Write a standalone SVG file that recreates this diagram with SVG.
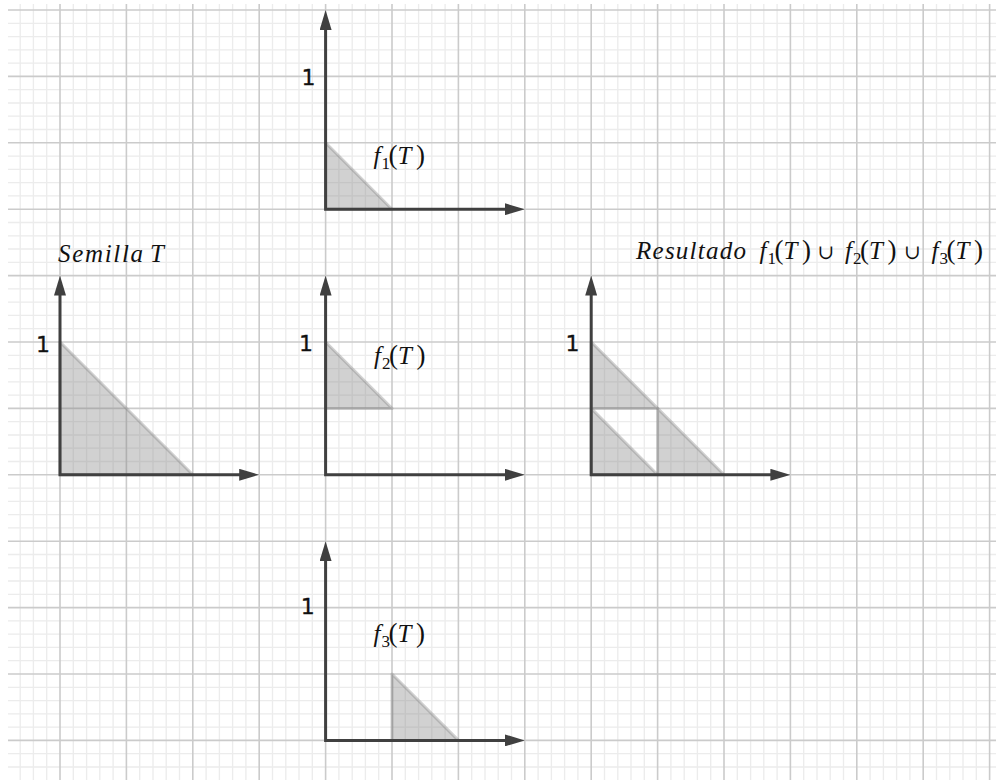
<svg xmlns="http://www.w3.org/2000/svg" width="996" height="780" viewBox="0 0 996 780">
<style>
.minor{stroke:#ececec;stroke-width:1.3;fill:none}
.major{stroke:#cbcbcb;stroke-width:1.6;fill:none}
.tri{fill:#808080;fill-opacity:0.36;stroke:#808080;stroke-opacity:0.36;stroke-width:3;stroke-linejoin:round}
.axis{fill:none;stroke:#404040;stroke-width:3;marker-start:url(#arrS);marker-end:url(#arrE)}
.one{font-family:"DejaVu Sans",sans-serif;font-size:22px;fill:#111;text-anchor:middle;stroke:#111;stroke-width:0.3}
.m{font-family:"Liberation Serif",serif;font-size:27px;fill:#111}
.mi{font-family:"Liberation Serif",serif;font-size:25px;font-style:italic;fill:#111}
.sub{font-family:"Liberation Serif",serif;font-size:17px;fill:#111}
.cup{font-family:"DejaVu Serif",serif;font-size:20px;fill:#111;text-anchor:middle}
</style>
<defs>
<marker id="arrE" viewBox="0 0 20 12" markerWidth="20" markerHeight="12" refX="8" refY="6" orient="auto" markerUnits="userSpaceOnUse"><path d="M0,0 L20,6 L0,12 z" fill="#404040"/></marker>
<marker id="arrS" viewBox="0 0 20 12" markerWidth="20" markerHeight="12" refX="8" refY="6" orient="auto-start-reverse" markerUnits="userSpaceOnUse"><path d="M0,0 L20,6 L0,12 z" fill="#404040"/></marker>
<g id="fT">
<text class="mi" x="3.5" y="0">f</text>
<text class="m" x="18.5" y="0">(</text>
<text class="mi" x="27.5" y="0">T</text>
<text class="m" x="46" y="0">)</text>
</g>
</defs>
<rect width="996" height="780" fill="#ffffff"/>
<g id="grid">
<path class="minor" d="M20.2 4V780M33.4 4V780M46.7 4V780M73.3 4V780M86.6 4V780M99.8 4V780M113.1 4V780M139.7 4V780M153 4V780M166.2 4V780M179.5 4V780M206.1 4V780M219.4 4V780M232.6 4V780M245.9 4V780M272.5 4V780M285.8 4V780M299 4V780M312.3 4V780M338.9 4V780M352.2 4V780M365.4 4V780M378.7 4V780M405.3 4V780M418.6 4V780M431.8 4V780M445.1 4V780M471.7 4V780M485 4V780M498.2 4V780M511.5 4V780M538.1 4V780M551.4 4V780M564.6 4V780M577.9 4V780M604.5 4V780M617.8 4V780M631 4V780M644.3 4V780M670.9 4V780M684.2 4V780M697.4 4V780M710.7 4V780M737.3 4V780M750.6 4V780M763.8 4V780M777.1 4V780M803.7 4V780M817 4V780M830.2 4V780M843.5 4V780M870.1 4V780M883.4 4V780M896.6 4V780M909.9 4V780M936.5 4V780M949.8 4V780M963 4V780M976.3 4V780"/>
<path class="minor" d="M8 23.3H996M8 36.6H996M8 49.8H996M8 63.1H996M8 89.7H996M8 103H996M8 116.2H996M8 129.5H996M8 156.1H996M8 169.4H996M8 182.6H996M8 195.9H996M8 222.5H996M8 235.8H996M8 249H996M8 262.3H996M8 288.9H996M8 302.2H996M8 315.4H996M8 328.7H996M8 355.3H996M8 368.6H996M8 381.8H996M8 395.1H996M8 421.7H996M8 435H996M8 448.2H996M8 461.5H996M8 488.1H996M8 501.4H996M8 514.6H996M8 527.9H996M8 554.5H996M8 567.8H996M8 581H996M8 594.3H996M8 620.9H996M8 634.2H996M8 647.4H996M8 660.7H996M8 687.3H996M8 700.6H996M8 713.8H996M8 727.1H996M8 753.7H996M8 767H996"/>
<path class="major" d="M60 4V780M126.4 4V780M192.8 4V780M259.2 4V780M325.6 4V780M392 4V780M458.4 4V780M524.8 4V780M591.2 4V780M657.6 4V780M724 4V780M790.4 4V780M856.8 4V780M923.2 4V780M989.6 4V780"/>
<path class="major" d="M8 10H996M8 76.4H996M8 142.8H996M8 209.2H996M8 275.6H996M8 342H996M8 408.4H996M8 474.8H996M8 541.2H996M8 607.6H996M8 674H996M8 740.4H996"/>
</g>
<g id="seed">
<polygon class="tri" points="60,342 60,474.8 192.8,474.8"/>
<path class="axis" d="M60 287.6V474.8H247.2"/>
<text class="one" x="43" y="352">1</text>
<text class="mi" x="58" y="262" textLength="85" lengthAdjust="spacing">Semilla</text>
<text class="mi" x="150" y="262">T</text>
</g>
<g id="f1">
<polygon class="tri" points="325.6,142.8 325.6,209.2 392,209.2"/>
<path class="axis" d="M325.6 22V209.2H512.8"/>
<text class="one" x="308.5" y="85">1</text>
<use href="#fT" x="370" y="164"/>
<text class="sub" x="381.5" y="169">1</text>
</g>
<g id="f2">
<polygon class="tri" points="325.6,342 325.6,408.4 392,408.4"/>
<path class="axis" d="M325.6 287.6V474.8H512.8"/>
<text class="one" x="306" y="351">1</text>
<use href="#fT" x="370.5" y="363.5"/>
<text class="sub" x="382" y="368.5">2</text>
</g>
<g id="f3">
<polygon class="tri" points="392,674 392,740.4 458.4,740.4"/>
<path class="axis" d="M325.6 553.2V740.4H512.8"/>
<text class="one" x="307.7" y="614">1</text>
<use href="#fT" x="370" y="642"/>
<text class="sub" x="381.5" y="647">3</text>
</g>
<g id="result">
<polygon class="tri" points="591.2,342 591.2,408.4 657.6,408.4"/>
<polygon class="tri" points="591.2,408.4 591.2,474.8 657.6,474.8"/>
<polygon class="tri" points="657.6,408.4 657.6,474.8 724,474.8"/>
<path class="axis" d="M591.2 287.6V474.8H778.4"/>
<text class="one" x="572.5" y="351">1</text>
<text class="mi" x="636" y="258.5" textLength="110" lengthAdjust="spacing">Resultado</text>
<use href="#fT" x="756" y="258.5"/>
<text class="sub" x="767.5" y="263.5">1</text>
<text class="cup" x="826" y="258.5">∪</text>
<use href="#fT" x="841.5" y="258.5"/>
<text class="sub" x="853" y="263.5">2</text>
<text class="cup" x="912.3" y="258.5">∪</text>
<use href="#fT" x="928" y="258.5"/>
<text class="sub" x="939.5" y="263.5">3</text>
</g>
<g id="connectors"/>
</svg>
